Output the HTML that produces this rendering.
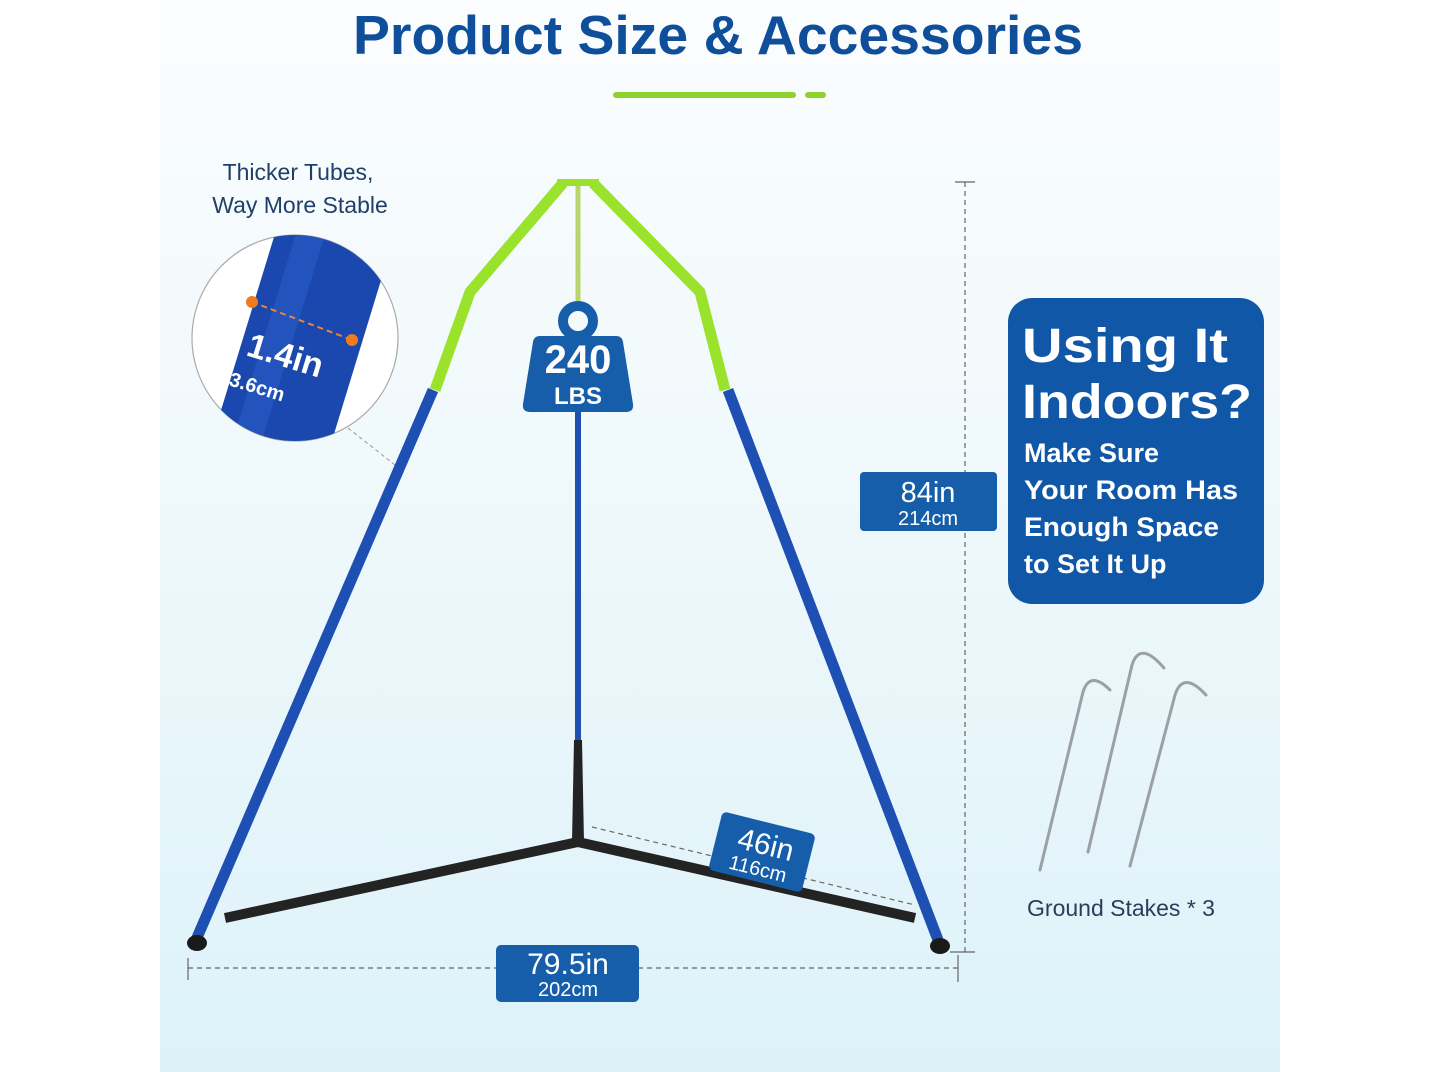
<!DOCTYPE html>
<html><head><meta charset="utf-8"><style>
html,body{margin:0;padding:0;width:1440px;height:1072px;overflow:hidden;background:#fff}
svg{display:block}
text{font-family:"Liberation Sans",sans-serif}
.b{font-weight:bold}
.n{font-weight:normal}
</style></head><body>
<svg width="1440" height="1072" viewBox="0 0 1440 1072" xmlns="http://www.w3.org/2000/svg">
<defs>
<linearGradient id="bg" x1="0" y1="0" x2="0" y2="1">
<stop offset="0" stop-color="#fbfdfe"/><stop offset="0.5" stop-color="#eef8fb"/><stop offset="1" stop-color="#dcf2f9"/>
</linearGradient>
<clipPath id="cc"><circle cx="295" cy="338" r="103"/></clipPath>
</defs>
<rect x="160" y="0" width="1120" height="1072" fill="url(#bg)"/>
<text class="b" x="718" y="54" text-anchor="middle" font-size="55" fill="#0f4e9a" textLength="730" lengthAdjust="spacingAndGlyphs">Product Size &amp; Accessories</text>
<line x1="616" y1="95" x2="793" y2="95" stroke="#8fd12e" stroke-width="6" stroke-linecap="round"/>
<line x1="808" y1="95" x2="823" y2="95" stroke="#8fd12e" stroke-width="6" stroke-linecap="round"/>

<text class="n" x="298" y="180" text-anchor="middle" font-size="23" fill="#1f3f6a">Thicker Tubes,</text>
<text class="n" x="300" y="213" text-anchor="middle" font-size="23" fill="#1f3f6a">Way More Stable</text>

<circle cx="295" cy="338" r="103" fill="#fff" stroke="#aaa" stroke-width="1.2"/>
<g clip-path="url(#cc)">
<g transform="rotate(17 300 340)">
<rect x="245" y="200" width="115" height="280" fill="#1a48ae"/>
<rect x="265" y="200" width="28" height="280" fill="#2a5cc4" opacity="0.6"/>
</g>
</g>
<line x1="252" y1="302" x2="352" y2="340" stroke="#e8843a" stroke-width="2" stroke-dasharray="6 4"/>
<circle cx="252" cy="302" r="6" fill="#f07a1e"/><circle cx="352" cy="340" r="6" fill="#f07a1e"/>
<text class="b" transform="translate(245 355) rotate(17)" font-size="34" fill="#fff">1.4in</text>
<text class="b" transform="translate(228 385) rotate(17)" font-size="20" fill="#fff">3.6cm</text>
<line x1="348" y1="428" x2="395" y2="465" stroke="#999" stroke-width="1" stroke-dasharray="4 3"/>

<polyline points="563,183 470,292 435,390" fill="none" stroke="#9be22c" stroke-width="11" stroke-linejoin="round"/>
<polyline points="593,183 700,292 725,390" fill="none" stroke="#9be22c" stroke-width="11" stroke-linejoin="round"/>
<rect x="557" y="179" width="42" height="7" fill="#9be22c"/>
<line x1="578" y1="186" x2="578" y2="310" stroke="#b7d56a" stroke-width="5"/>
<line x1="433" y1="390" x2="196" y2="940" stroke="#1e4fb3" stroke-width="11"/>
<line x1="728" y1="390" x2="938" y2="940" stroke="#1e4fb3" stroke-width="11"/>
<line x1="578" y1="410" x2="578" y2="740" stroke="#1e4fb3" stroke-width="6"/>
<polygon points="574,740 582,740 584,842 572,842" fill="#232323"/>
<polyline points="225,918 578,842 915,918" fill="none" stroke="#232323" stroke-width="10" stroke-linejoin="miter"/>
<ellipse cx="197" cy="943" rx="10" ry="8" fill="#1a1a1a"/>
<ellipse cx="940" cy="946" rx="10" ry="8" fill="#1a1a1a"/>

<circle cx="578" cy="321" r="15" fill="none" stroke="#165ea9" stroke-width="10"/>
<path d="M540,336 H616 Q622,336 623,342 L633,404 Q634,412 626,412 H530 Q522,412 523,404 L533,342 Q534,336 540,336Z" fill="#165ea9"/>
<text class="b" x="578" y="373" text-anchor="middle" font-size="40" fill="#fff">240</text>
<text class="b" x="578" y="404" text-anchor="middle" font-size="24" fill="#fff">LBS</text>

<line x1="965" y1="182" x2="965" y2="952" stroke="#666" stroke-width="1.2" stroke-dasharray="5 4"/>
<line x1="955" y1="182" x2="975" y2="182" stroke="#666" stroke-width="1.2"/>
<line x1="950" y1="952" x2="975" y2="952" stroke="#666" stroke-width="1.2"/>
<rect x="860" y="472" width="137" height="59" rx="4" fill="#165ea9"/>
<text class="n" x="928" y="502" text-anchor="middle" font-size="29" fill="#fff">84in</text>
<text class="n" x="928" y="525" text-anchor="middle" font-size="20" fill="#fff">214cm</text>

<line x1="188" y1="968" x2="958" y2="968" stroke="#666" stroke-width="1.2" stroke-dasharray="5 4"/>
<line x1="188" y1="958" x2="188" y2="980" stroke="#666" stroke-width="1.2"/>
<line x1="958" y1="955" x2="958" y2="982" stroke="#666" stroke-width="1.2"/>
<rect x="496" y="945" width="143" height="57" rx="5" fill="#165ea9"/>
<text class="n" x="568" y="974" text-anchor="middle" font-size="30" fill="#fff">79.5in</text>
<text class="n" x="568" y="996" text-anchor="middle" font-size="20" fill="#fff">202cm</text>

<line x1="592" y1="827" x2="915" y2="905" stroke="#666" stroke-width="1.2" stroke-dasharray="5 4"/>
<g transform="translate(762 852) rotate(14)">
<rect x="-48" y="-30" width="96" height="60" rx="5" fill="#165ea9"/>
<text class="n" x="2" y="2" text-anchor="middle" font-size="30" fill="#fff">46in</text>
<text class="n" x="0" y="24" text-anchor="middle" font-size="20" fill="#fff">116cm</text>
</g>

<rect x="1008" y="298" width="256" height="306" rx="24" fill="#1157a7"/>
<text class="b" x="1022" y="362" font-size="48" fill="#fff" textLength="206" lengthAdjust="spacingAndGlyphs">Using It</text>
<text class="b" x="1022" y="418" font-size="48" fill="#fff" textLength="230" lengthAdjust="spacingAndGlyphs">Indoors?</text>
<text class="b" x="1024" y="462" font-size="27" fill="#fff">Make Sure</text>
<text class="b" x="1024" y="499" font-size="27" fill="#fff" textLength="214" lengthAdjust="spacingAndGlyphs">Your Room Has</text>
<text class="b" x="1024" y="536" font-size="27" fill="#fff" textLength="195" lengthAdjust="spacingAndGlyphs">Enough Space</text>
<text class="b" x="1024" y="573" font-size="27" fill="#fff">to Set It Up</text>

<g fill="none" stroke="#9aa0a6" stroke-width="3" stroke-linecap="round">
<path d="M1040,870 L1083,692 Q1090,670 1110,690"/>
<path d="M1088,852 L1132,665 Q1140,640 1164,668"/>
<path d="M1130,866 L1175,695 Q1183,670 1206,695"/>
</g>
<text class="n" x="1121" y="916" text-anchor="middle" font-size="23" fill="#2a3d5c">Ground Stakes * 3</text>
</svg>
</body></html>
